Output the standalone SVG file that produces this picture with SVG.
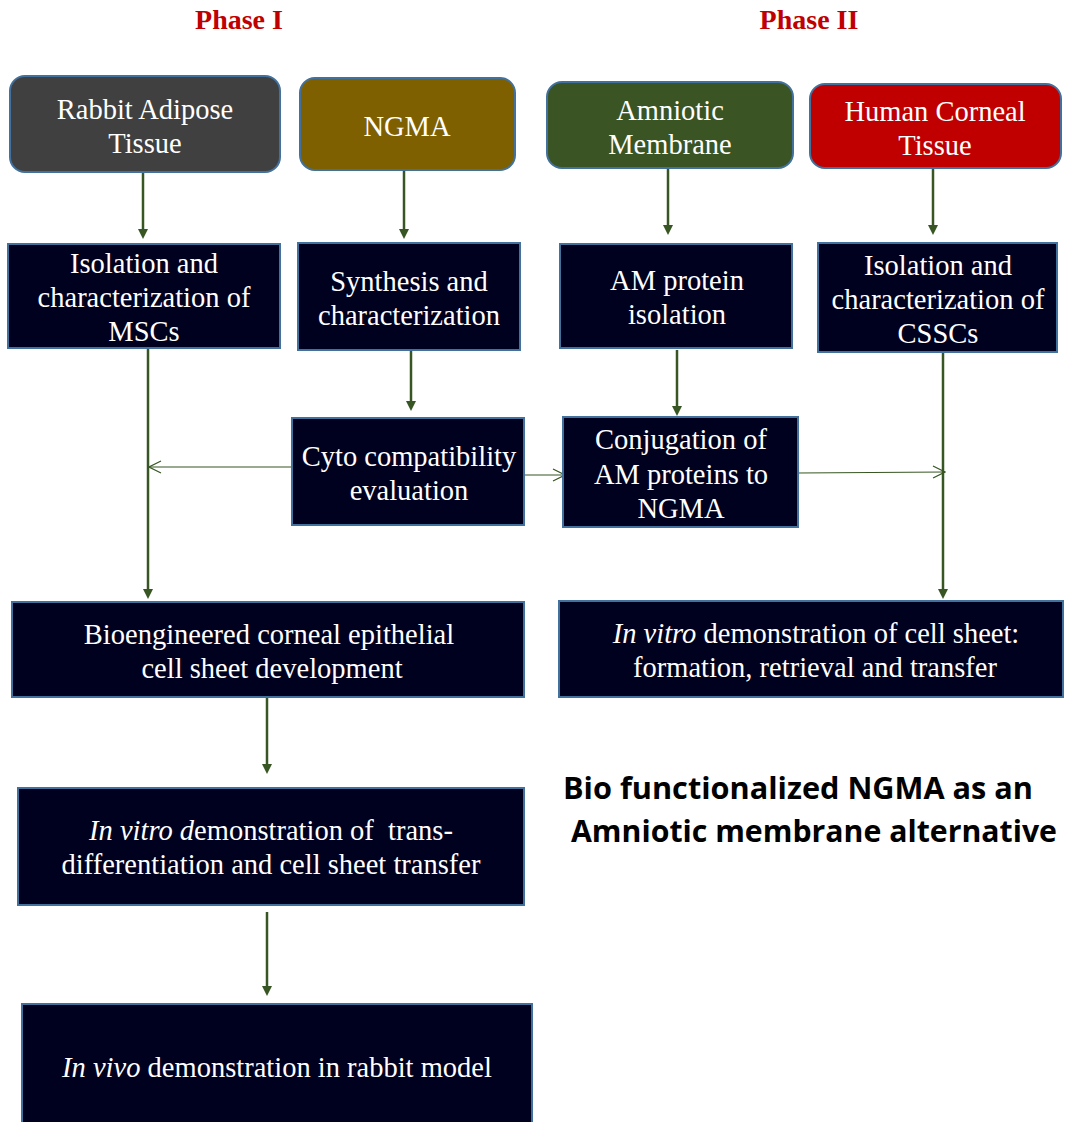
<svg xmlns="http://www.w3.org/2000/svg" width="1066" height="1122" viewBox="0 0 1066 1122">
<style>
.box{stroke:#41719C;stroke-width:2}
.dark{fill:#00001F}
.t{font-family:"Liberation Serif","Times New Roman",serif;font-size:28.5px;fill:#fff;text-anchor:middle}
.ph{font-family:"Liberation Serif","Times New Roman",serif;font-size:28px;font-weight:bold;fill:#C00000;text-anchor:middle}
.big{font-family:"Open Sans","Liberation Sans",sans-serif;font-size:30px;font-weight:bold;fill:#000}
.a{stroke:#375623;stroke-width:2.5;fill:none}
.thin{stroke:#375623;stroke-width:1.2;fill:none}
</style>
<defs>
<marker id="ah" markerWidth="10" markerHeight="10" refX="5" refY="5" orient="auto" markerUnits="userSpaceOnUse" viewBox="0 0 10 10">
<path d="M0,0 L10,5 L0,10 Z" fill="#375623"/>
</marker>
<marker id="oh" markerWidth="14" markerHeight="14" refX="13" refY="7" orient="auto" markerUnits="userSpaceOnUse" viewBox="0 0 14 14">
<path d="M1,1 L13,7 L1,13" fill="none" stroke="#375623" stroke-width="1.2"/>
</marker>
</defs>
<rect width="1066" height="1122" fill="#fff"/>
<text class="ph" x="239" y="29">Phase I</text>
<text class="ph" x="809" y="29">Phase II</text>

<g id="connectors">
<line class="a" x1="143" y1="172" x2="143" y2="234" marker-end="url(#ah)"/>
<line class="a" x1="404" y1="169" x2="404" y2="234" marker-end="url(#ah)"/>
<line class="a" x1="668" y1="164" x2="668" y2="230" marker-end="url(#ah)"/>
<line class="a" x1="933" y1="164" x2="933" y2="230" marker-end="url(#ah)"/>
<line class="a" x1="411" y1="343" x2="411" y2="406" marker-end="url(#ah)"/>
<line class="a" x1="677" y1="350" x2="677" y2="411" marker-end="url(#ah)"/>
<line class="a" x1="148" y1="348" x2="148" y2="594" marker-end="url(#ah)"/>
<line class="a" x1="943" y1="352" x2="943" y2="594" marker-end="url(#ah)"/>
<line class="a" x1="267" y1="690" x2="267" y2="769" marker-end="url(#ah)"/>
<line class="a" x1="267" y1="912" x2="267" y2="991" marker-end="url(#ah)"/>
<line class="thin" x1="310" y1="467" x2="149" y2="467" marker-end="url(#oh)"/>
<line class="thin" x1="518" y1="475" x2="565" y2="475" marker-end="url(#oh)"/>
<line class="thin" x1="798" y1="473" x2="945" y2="472" marker-end="url(#oh)"/>
</g>

<g id="rabbit">
<rect class="box" x="10" y="76" width="270" height="96" rx="15" fill="#404040"/>
<text class="t" x="145" y="119">Rabbit Adipose</text>
<text class="t" x="145" y="153">Tissue</text>
</g>
<g id="ngma">
<rect class="box" x="300" y="78" width="215" height="92" rx="15" fill="#7F6000"/>
<text class="t" x="407" y="136">NGMA</text>
</g>
<g id="amniotic">
<rect class="box" x="547" y="82" width="246" height="86" rx="15" fill="#3A5424"/>
<text class="t" x="670" y="120">Amniotic</text>
<text class="t" x="670" y="154">Membrane</text>
</g>
<g id="human">
<rect class="box" x="810" y="84" width="251" height="84" rx="15" fill="#C00000"/>
<text class="t" x="935" y="121">Human Corneal</text>
<text class="t" x="935" y="155">Tissue</text>
</g>

<g id="msc">
<rect class="box dark" x="8" y="244" width="272" height="104"/>
<text class="t" x="144" y="273">Isolation and</text>
<text class="t" x="144" y="307">characterization of</text>
<text class="t" x="144" y="341">MSCs</text>
</g>
<g id="synthesis">
<rect class="box dark" x="298" y="243" width="222" height="107"/>
<text class="t" x="409" y="291">Synthesis and</text>
<text class="t" x="409" y="325">characterization</text>
</g>
<g id="amprotein">
<rect class="box dark" x="560" y="244" width="232" height="104"/>
<text class="t" x="677" y="290">AM protein</text>
<text class="t" x="677" y="324">isolation</text>
</g>
<g id="cssc">
<rect class="box dark" x="818" y="243" width="239" height="109"/>
<text class="t" x="938" y="275">Isolation and</text>
<text class="t" x="938" y="309">characterization of</text>
<text class="t" x="938" y="343">CSSCs</text>
</g>

<g id="cyto">
<rect class="box dark" x="292" y="418" width="232" height="107"/>
<text class="t" x="409" y="466">Cyto compatibility</text>
<text class="t" x="409" y="500">evaluation</text>
</g>
<g id="conjugation">
<rect class="box dark" x="563" y="417" width="235" height="110"/>
<text class="t" x="681" y="449">Conjugation of</text>
<text class="t" x="681" y="484">AM proteins to</text>
<text class="t" x="681" y="518">NGMA</text>
</g>

<g id="bioengineered">
<rect class="box dark" x="12" y="602" width="512" height="95"/>
<text class="t" x="269" y="644">Bioengineered corneal epithelial</text>
<text class="t" x="272" y="678">cell sheet development</text>
</g>
<g id="invitro-cs">
<rect class="box dark" x="559" y="601" width="504" height="96"/>
<text class="t" x="816" y="643"><tspan font-style="italic">In vitro</tspan> demonstration of cell sheet:</text>
<text class="t" x="815" y="677">formation, retrieval and transfer</text>
</g>

<g id="caption">
<text class="big" x="563" y="799" textLength="470" lengthAdjust="spacingAndGlyphs">Bio functionalized NGMA as an</text>
<text class="big" x="571" y="842" textLength="486" lengthAdjust="spacingAndGlyphs">Amniotic membrane alternative</text>
</g>

<g id="invitro-trans">
<rect class="box dark" x="18" y="788" width="506" height="117"/>
<text class="t" x="271" y="840" xml:space="preserve"><tspan font-style="italic">In vitro d</tspan>emonstration of  trans-</text>
<text class="t" x="271" y="874">differentiation and cell sheet transfer</text>
</g>
<g id="invivo">
<rect class="box dark" x="22" y="1004" width="510" height="130"/>
<text class="t" x="277" y="1077"><tspan font-style="italic">In vivo</tspan> demonstration in rabbit model</text>
</g>
</svg>
